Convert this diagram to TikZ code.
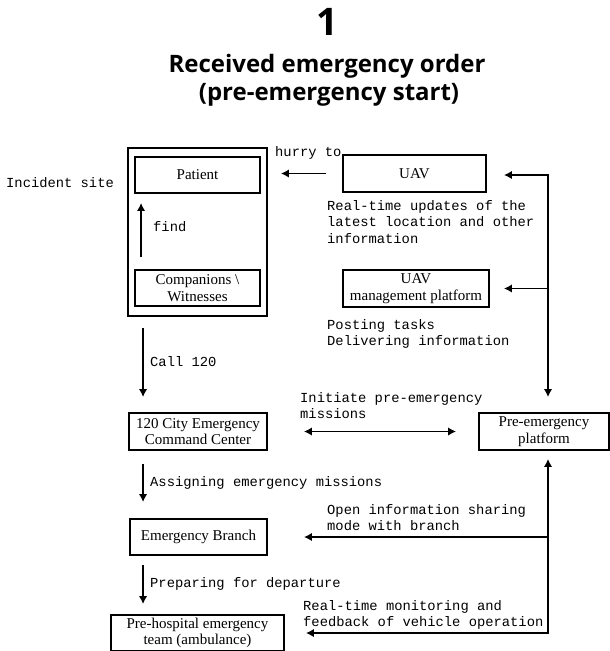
\documentclass[tikz,border=0pt]{standalone}
\usepackage{fontspec}
\setmainfont{Liberation Serif}
\newfontfamily\monofont{Liberation Mono}
\newfontfamily\titlefont{Open Sans}
\usetikzlibrary{arrows.meta}

\tikzset{
  caixa/.style={draw, line width=1.9pt, inner sep=0pt, align=center,
    font=\fontsize{15}{16.5}\selectfont},
  rotulo/.style={anchor=north west, inner sep=0pt, align=left,
    font=\monofont\fontsize{13.8}{16.5}\selectfont},
  seta/.style={line width=1.7pt, -{Latex[length=8pt,width=8.5pt]}},
  setas/.style={line width=1.7pt, {Latex[length=8pt,width=8.5pt]}-{Latex[length=8pt,width=8.5pt]}},
}

\begin{document}
\begin{tikzpicture}[x=1pt, y=-1pt]
  \useasboundingbox (0,0) rectangle (610,651);
  % título
  \node[font=\titlefont\bfseries\fontsize{38}{38}\selectfont, anchor=base] (num) at (327,35) {1};
  \node[font=\titlefont\bfseries\fontsize{24}{28}\selectfont, anchor=base] (titulo) at (327,72) {Received emergency order};
  \node[font=\titlefont\bfseries\fontsize{24}{28}\selectfont, anchor=base] (subtitulo) at (329,100) {(pre-emergency start)};
  % local do incidente
  \node[caixa, minimum width=139pt, minimum height=168pt] (site) at (197.5,232) {};
  \node[caixa, minimum width=125pt, minimum height=36pt] (patient) at (197.5,175) {Patient};
  \node[caixa, minimum width=125pt, minimum height=36pt] (comp) at (197.5,288) {Companions \textbackslash\\Witnesses};
  \node[rotulo] (incidente) at (6,177) {Incident site};
  \draw[seta, shorten <=12pt, shorten >=9pt] ([xshift=7pt]comp.north west) -- ([xshift=7pt]patient.south west);
  \node[rotulo] (achar) at (153,221) {find};
  % drone
  \node[caixa, minimum width=143pt, minimum height=37pt] (uav) at (414.5,173.5) {UAV};
  \node[caixa, minimum width=146pt, minimum height=37pt] (uavmp) at (416,288.5) {UAV\\management platform};
  \draw[seta, shorten <=16pt, shorten >=13pt] (uav.west) -- (uav.west -| site.east);
  \node[rotulo] (hurry) at (275,146) {hurry to};
  \node[rotulo] (atual) at (327,200) {Real-time updates of the\\latest location and other\\information};
  \node[rotulo] (tarefas) at (327,319) {Posting tasks\\Delivering information};
  % central e equipes
  \node[caixa, minimum width=138pt, minimum height=37pt] (cc) at (198,431.5) {120 City Emergency\\Command Center};
  \node[caixa, minimum width=137pt, minimum height=36pt] (branch) at (198.5,537) {Emergency Branch};
  \node[caixa, minimum width=173pt, minimum height=36pt] (team) at (197.5,633) {Pre-hospital emergency\\team (ambulance)};
  \draw[seta, shorten <=11pt, shorten >=15pt] ([xshift=16pt]site.south west) -- ([xshift=15pt]cc.north west);
  \draw[seta, shorten <=13pt, shorten >=16pt] ([xshift=15pt]cc.south west) -- ([xshift=14pt]branch.north west);
  \draw[seta, shorten <=9pt, shorten >=10pt] ([xshift=14pt]branch.south west) -- ([xshift=33pt]team.north west);
  \node[rotulo] (ligar) at (150,356) {Call 120};
  \node[rotulo] (atribuir) at (150,476) {Assigning emergency missions};
  \node[rotulo] (preparar) at (150,577) {Preparing for departure};
  % plataforma
  \node[caixa, minimum width=130pt, minimum height=37pt] (pe) at (544,431.5) {Pre-emergency\\platform};
  \coordinate (topo) at (548,175);
  \coordinate (fundo) at (548,633);
  \draw[setas, shorten <=17pt, shorten >=15pt] (uav.east |- topo) -- (topo) -- (topo |- pe.north);
  \draw[seta, shorten >=14pt] (uavmp.east -| topo) -- (uavmp.east);
  \draw[setas, shorten <=8pt, shorten >=21pt] (fundo |- pe.south) -- (fundo) -- (team.east);
  \draw[seta, shorten >=36pt] (branch.east -| fundo) -- (branch.east);
  \draw[setas, shorten <=36pt, shorten >=22pt] (cc.east) -- (pe.west);
  \node[rotulo] (iniciar) at (300,392) {Initiate pre-emergency\\missions};
  \node[rotulo] (abrir) at (327,504) {Open information sharing\\mode with branch};
  \node[rotulo] (monitor) at (303,600) {Real-time monitoring and\\feedback of vehicle operation};
\end{tikzpicture}
\end{document}
